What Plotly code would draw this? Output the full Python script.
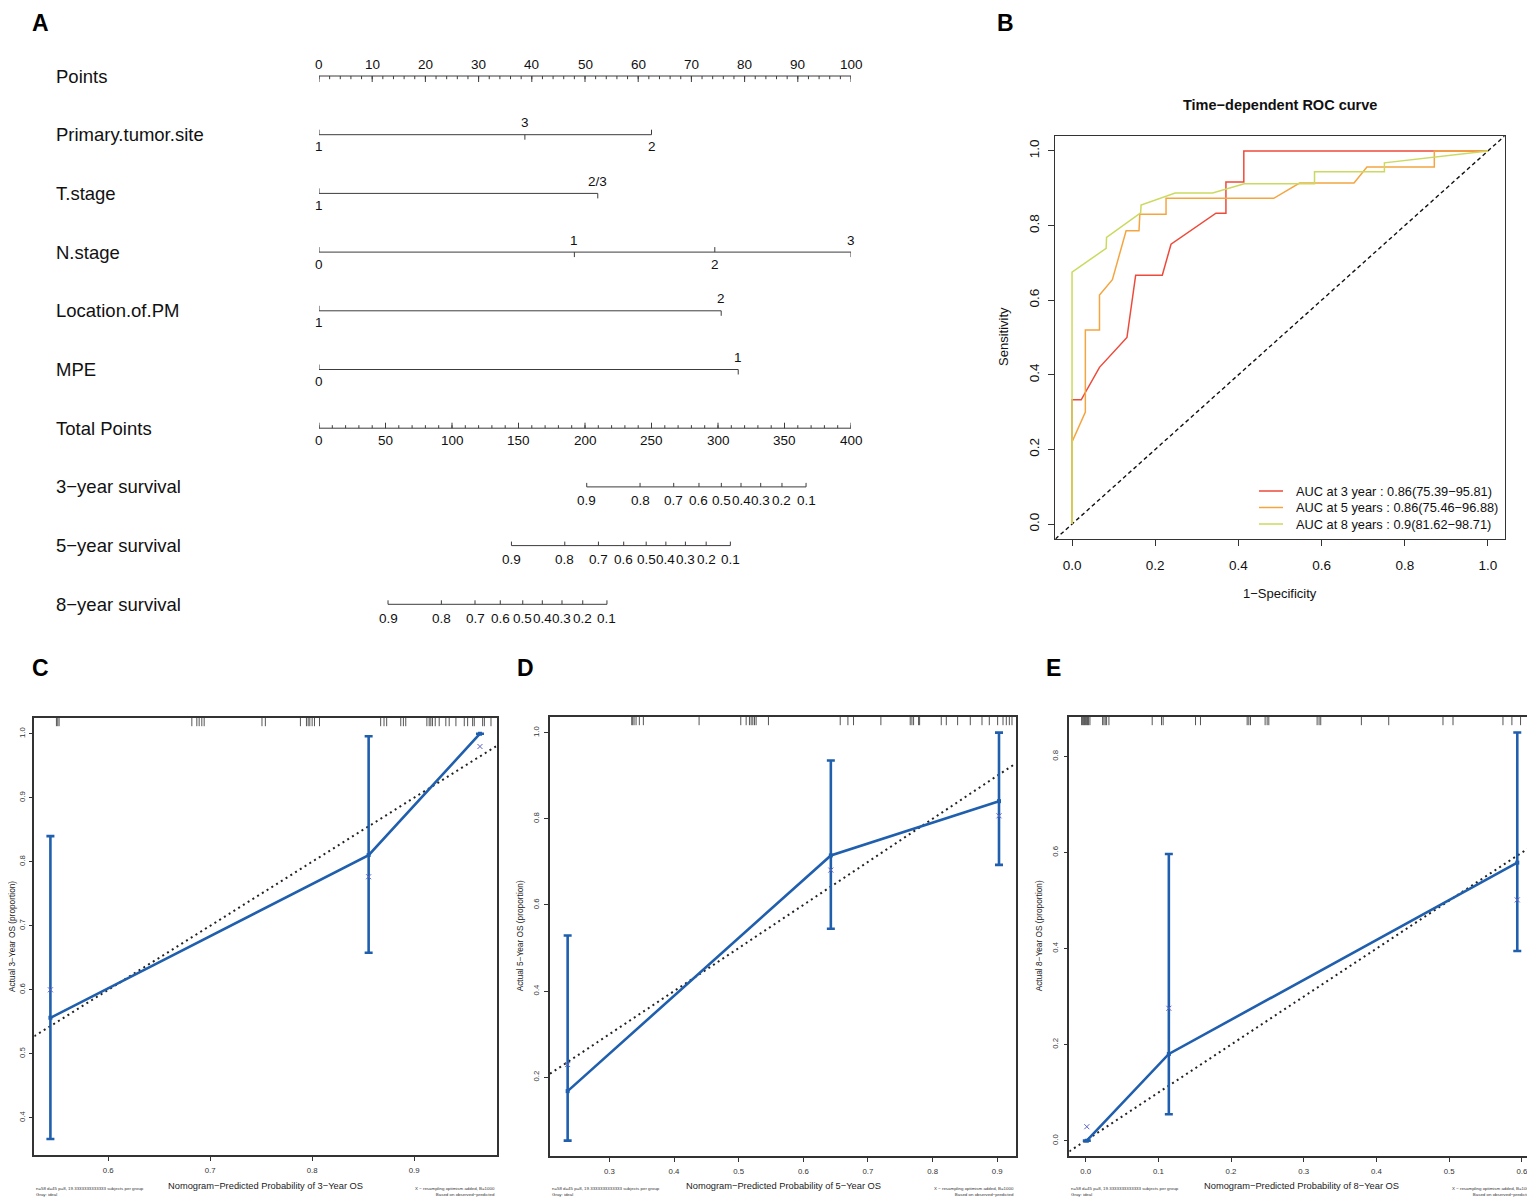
import plotly.graph_objects as go

PAGE_OFF = 8                      # browser default body margin
W, H = 1535 - PAGE_OFF, 1199 - PAGE_OFF
FONT = "Liberation Sans, Arial, Helvetica, sans-serif"

# ======================= DATA =======================
# ---- Panel A : nomogram ----
row_names = ["Points", "Primary.tumor.site", "T.stage", "N.stage", "Location.of.PM",
             "MPE", "Total Points", "3−year survival", "5−year survival", "8−year survival"]

points_major = list(range(0, 101, 10))
points_minor = list(range(0, 101, 2))

tumor_site_levels = ["1", "3", "2"]
tumor_site_points = [0, 38.7, 62.5]
t_stage_levels = ["1", "2/3"]
t_stage_points = [0, 52.4]
n_stage_levels = ["0", "1", "2", "3"]
n_stage_points = [0, 48.0, 74.4, 100]
location_levels = ["1", "2"]
location_points = [0, 75.6]
mpe_levels = ["0", "1"]
mpe_points = [0, 78.8]

total_major = list(range(0, 401, 50))
total_minor = list(range(0, 401, 10))

surv_probs = ["0.9", "0.8", "0.7", "0.6", "0.5", "0.4", "0.3", "0.2", "0.1"]
surv3_total = [201.3, 241.4, 266.7, 285.7, 302.5, 317.3, 332.1, 348.1, 366.2]
surv5_total = [144.7, 184.8, 210.1, 229.1, 246.0, 260.8, 275.5, 291.1, 309.3]
surv8_total = [51.9, 92.0, 117.3, 136.3, 153.2, 167.9, 182.7, 198.3, 216.5]

# ---- Panel B : time-dependent ROC ----
fpr3 = [0, 0, 0.022, 0.066, 0.132, 0.153, 0.217, 0.238, 0.346, 0.370, 0.370, 0.413, 0.413, 1.0]
tpr3 = [0, 0.333, 0.333, 0.420, 0.500, 0.667, 0.667, 0.750, 0.833, 0.833, 0.917, 0.917, 1.0, 1.0]
fpr5 = [0, 0, 0.032, 0.032, 0.066, 0.066, 0.097, 0.130, 0.161, 0.163, 0.226, 0.226, 0.485,
        0.547, 0.678, 0.709, 0.871, 0.871, 1.0]
tpr5 = [0, 0.220, 0.300, 0.520, 0.520, 0.614, 0.655, 0.786, 0.786, 0.830, 0.830, 0.873, 0.873,
        0.914, 0.914, 0.957, 0.957, 1.0, 1.0]
fpr8 = [0, 0, 0.082, 0.083, 0.165, 0.166, 0.248, 0.338, 0.414, 0.583, 0.583, 0.751, 0.751, 1.0]
tpr8 = [0, 0.675, 0.739, 0.768, 0.834, 0.855, 0.887, 0.887, 0.912, 0.912, 0.944, 0.944, 0.968, 1.0]
roc_labels = ["AUC at 3 year : 0.86(75.39−95.81)",
              "AUC at 5 years : 0.86(75.46−96.88)",
              "AUC at 8 years : 0.9(81.62−98.71)"]
roc_colors = ["#EE4A3A", "#F5A540", "#CBDA5E"]

# ---- Panels C, D, E : calibration ----
c_pred = [0.5433, 0.8554, 0.9646]
c_obs = [0.5563, 0.8104, 1.0]
c_lo = [0.367, 0.658, 1.0]
c_hi = [0.840, 0.996, 1.0]
c_corr = [0.600, 0.7766, 0.980]
c_rug = [0.5492, 0.5505, 0.5518, 0.682, 0.6869, 0.6892, 0.6918, 0.6941, 0.7508, 0.7541,
         0.7885, 0.7944, 0.7961, 0.7977, 0.800, 0.8023, 0.8072, 0.8672, 0.8705, 0.8731,
         0.8869, 0.8895, 0.8918, 0.9125, 0.9148, 0.9164, 0.918, 0.9207, 0.9246, 0.9311,
         0.9344, 0.941, 0.9492, 0.9525, 0.9574, 0.959, 0.9672, 0.9689, 0.9754]

d_pred = [0.2355, 0.6426, 0.9027]
d_obs = [0.168, 0.715, 0.841]
d_lo = [0.053, 0.5447, 0.693]
d_hi = [0.529, 0.9354, 1.0]
d_corr = [0.2296, 0.681, 0.807]
d_rug = [0.3346, 0.3361, 0.3382, 0.3413, 0.3464, 0.3526, 0.4388, 0.5033, 0.5116, 0.5167,
         0.5193, 0.5219, 0.5245, 0.527, 0.5461, 0.6571, 0.669, 0.6777, 0.72, 0.7654, 0.768,
         0.7706, 0.7783, 0.7799, 0.8134, 0.8212, 0.8387, 0.8583, 0.8764, 0.8877, 0.9006,
         0.9089, 0.914, 0.9187, 0.9228]

e_pred = [0.0017, 0.1145, 0.5937]
e_obs = [0.0, 0.1806, 0.579]
e_lo = [0.0, 0.0549, 0.395]
e_hi = [0.0, 0.597, 0.850]
e_corr = [0.029, 0.2757, 0.5014]
e_rug = [-0.0055, -0.0041, -0.0027, -0.0014, 0.0, 0.0014, 0.0027, 0.0041, 0.006, 0.0234,
         0.0252, 0.027, 0.0289, 0.0321, 0.0916, 0.1044, 0.1067, 0.1512, 0.158, 0.2222,
         0.2245, 0.2268, 0.2469, 0.2497, 0.252, 0.3184, 0.3211, 0.3234, 0.3793, 0.4169,
         0.4915, 0.5053, 0.574, 0.5863, 0.5982]

cal_footnote_left = "n=58 d=45 p=8, 19.3333333333333 subjects per group<br>Gray: ideal"
cal_footnote_right = "X − resampling optimism added, B=1000<br>Based on observed−predicted"

# ======================= HELPERS =======================
def px(x):
    return (x - PAGE_OFF) / W


def py(y):
    return 1 - (y - PAGE_OFF) / H


fig = go.Figure()
annotations = []
shapes = []


def ann(text, x, y, size, xref="paper", yref="paper", xanchor="center", yanchor="middle",
        bold=False, angle=0, yshift=0, color="#111", align="center"):
    annotations.append(dict(
        text=f"<b>{text}</b>" if bold else text, x=x, y=y, xref=xref, yref=yref,
        xanchor=xanchor, yanchor=yanchor, showarrow=False, textangle=angle, yshift=yshift,
        align=align, font=dict(family=FONT, size=size, color=color)))


# ======================= PANEL A =======================
NOM_X0, NOM_X1 = 319, 851         # pixels of 0 and 100 points
NOM_TOP, NOM_BOT = 40, 640
ROW0, ROW_STEP = 76, 58.7
yr_top = (NOM_TOP - ROW0) / ROW_STEP
yr_bot = (NOM_BOT - ROW0) / ROW_STEP
R = 1.0 / ROW_STEP                # rows per pixel

fig.update_layout(
    xaxis=dict(domain=[px(NOM_X0), px(NOM_X1)], range=[0, 100], visible=False, fixedrange=True),
    yaxis=dict(domain=[py(NOM_BOT), py(NOM_TOP)], range=[yr_bot, yr_top], visible=False,
               fixedrange=True),
)

segx, segy = [], []


def seg(x0, y0, x1, y1):
    segx.extend([x0, x1, None])
    segy.extend([y0, y1, None])


TICK_FS = 13.5
for i, name in enumerate(row_names):
    ann(name, px(54), i, 18.5, yref="y", xanchor="left")

# Points axis
seg(0, 0, 100, 0)
for v in points_minor:
    seg(v, 0, v, 3.2 * R)
for v in points_major:
    seg(v, 0, v, 6 * R)
    ann(str(v), v, 0, TICK_FS, xref="x", yref="y", yshift=12)

# factor rows
factor_rows = [(tumor_site_levels, tumor_site_points), (t_stage_levels, t_stage_points),
               (n_stage_levels, n_stage_points), (location_levels, location_points),
               (mpe_levels, mpe_points)]
for r, (levels, pts) in enumerate(factor_rows, start=1):
    seg(min(pts), r, max(pts), r)
    order = sorted(range(len(pts)), key=lambda k: pts[k])
    for j, k in enumerate(order):
        below = (j % 2 == 0)
        if below:
            seg(pts[k], r, pts[k], r - 5 * R)
            ann(levels[k], pts[k], r, TICK_FS, xref="x", yref="y", yshift=-12)
        else:
            seg(pts[k], r, pts[k], r + 5 * R)
            ann(levels[k], pts[k], r, TICK_FS, xref="x", yref="y", yshift=12)

# Total points (0-400 mapped onto the 0-100 points scale)
TP = 100.0 / 400.0
seg(0, 6, 400 * TP, 6)
for v in total_minor:
    seg(v * TP, 6, v * TP, 6 - 3 * R)
for v in total_major:
    seg(v * TP, 6, v * TP, 6 - 5.5 * R)
    ann(str(v), v * TP, 6, TICK_FS, xref="x", yref="y", yshift=-12)

# survival scales
for r, tot in zip([7, 8, 9], [surv3_total, surv5_total, surv8_total]):
    seg(min(tot) * TP, r, max(tot) * TP, r)
    for lab, v in zip(surv_probs, tot):
        seg(v * TP, r, v * TP, r - 4 * R)
        ann(lab, v * TP, r, TICK_FS, xref="x", yref="y", yshift=-14)

fig.add_trace(go.Scatter(x=segx, y=segy, mode="lines", xaxis="x", yaxis="y",
                         line=dict(color="#3c3c3c", width=1), hoverinfo="skip",
                         showlegend=False))

# ======================= PANEL B =======================
B_L, B_R, B_T, B_B = 1055.4, 1504.6, 136, 539
axis_common = dict(showline=True, mirror=True, linecolor="#333", showgrid=False,
                   zeroline=False, ticks="outside", tickcolor="#333", fixedrange=True,
                   tickformat=".1f")
fig.update_layout(
    xaxis2=dict(domain=[px(B_L), px(B_R)], range=[-0.04, 1.04], anchor="y2",
                tickvals=[0, 0.2, 0.4, 0.6, 0.8, 1.0], ticklen=6, linewidth=1.3,
                ticklabelstandoff=8, tickfont=dict(family=FONT, size=13.5, color="#111"),
                **axis_common),
    yaxis2=dict(domain=[py(B_B), py(B_T)], range=[-0.04, 1.04], anchor="x2",
                tickvals=[0, 0.2, 0.4, 0.6, 0.8, 1.0], ticklen=6, linewidth=1.3,
                tickangle=-90, ticklabelstandoff=4,
                tickfont=dict(family=FONT, size=13.5, color="#111"), **axis_common),
)
fig.add_trace(go.Scatter(x=[-0.04, 1.04], y=[-0.04, 1.04], mode="lines", xaxis="x2",
                         yaxis="y2", line=dict(color="#111", width=1.4, dash="4px,3px"),
                         hoverinfo="skip", showlegend=False))
for fx, ty, col in zip([fpr3, fpr5, fpr8], [tpr3, tpr5, tpr8], roc_colors):
    fig.add_trace(go.Scatter(x=fx, y=ty, mode="lines", xaxis="x2", yaxis="y2",
                             line=dict(color=col, width=1.5), hoverinfo="skip",
                             showlegend=False))
ann("Time−dependent ROC curve", px(1280), py(105), 14.5, bold=True)
ann("Sensitivity", px(1003), py(337), 13, angle=-90)
ann("1−Specificity", px(1280), py(593), 13)
for k, (lab, col) in enumerate(zip(roc_labels, roc_colors)):
    yy = 491 + 16.5 * k
    shapes.append(dict(type="line", xref="paper", yref="paper", x0=px(1259), x1=px(1283),
                       y0=py(yy), y1=py(yy), line=dict(color=col, width=1.5)))
    ann(lab, px(1294), py(yy), 12.8, xanchor="left")

# ======================= PANELS C, D, E =======================
BLUE = "#1F5FAE"
cal_panels = [
    dict(n=3, L=34.3, R=496.7, T=717.7, B=1155, xr=[0.5275, 0.981], yr=[0.342, 1.025],
         xt=[0.6, 0.7, 0.8, 0.9], yt=[0.4, 0.5, 0.6, 0.7, 0.8, 0.9, 1.0],
         pred=c_pred, obs=c_obs, lo=c_lo, hi=c_hi, corr=c_corr, rug=c_rug, yr_lab=3,
         ytx=12.6, ystand=0),
    dict(n=4, L=550, R=1016, T=716.7, B=1156, xr=[0.2082, 0.929], yr=[0.0174, 1.037],
         xt=[0.3, 0.4, 0.5, 0.6, 0.7, 0.8, 0.9], yt=[0.2, 0.4, 0.6, 0.8, 1.0],
         pred=d_pred, obs=d_obs, lo=d_lo, hi=d_hi, corr=d_corr, rug=d_rug, yr_lab=5,
         ytx=520, ystand=2),
    dict(n=5, L=1069.3, R=1533.5, T=716.7, B=1156, xr=[-0.0224, 0.616], yr=[-0.032, 0.883],
         xt=[0.0, 0.1, 0.2, 0.3, 0.4, 0.5, 0.6], yt=[0.0, 0.2, 0.4, 0.6, 0.8],
         pred=e_pred, obs=e_obs, lo=e_lo, hi=e_hi, corr=e_corr, rug=e_rug, yr_lab=8,
         ytx=1039, ystand=2),
]
for p in cal_panels:
    n = p["n"]
    xa, ya = f"x{n}", f"y{n}"
    cal_axis = dict(showline=True, mirror=True, linecolor="#333", linewidth=1.6,
                    showgrid=False, zeroline=False, ticks="outside", ticklen=4,
                    tickcolor="#333", tickformat=".1f", fixedrange=True,
                    tickfont=dict(family=FONT, size=7.8, color="#333"))
    fig.update_layout(**{
        f"xaxis{n}": dict(domain=[px(p["L"]), px(p["R"])], range=p["xr"], anchor=ya,
                          tickvals=p["xt"], ticklabelstandoff=3, **cal_axis),
        f"yaxis{n}": dict(domain=[py(p["B"]), py(p["T"])], range=p["yr"], anchor=xa,
                          tickvals=p["yt"], tickangle=-90, ticklabelstandoff=p["ystand"],
                          **cal_axis),
    })
    # ideal line
    fig.add_trace(go.Scatter(x=p["xr"], y=p["xr"], mode="lines", xaxis=xa, yaxis=ya,
                             line=dict(color="#222", width=2, dash="2px,3.6px"),
                             hoverinfo="skip", showlegend=False))
    # rug at top
    rug_len = (p["yr"][1] - p["yr"][0]) / (p["B"] - p["T"]) * 8.5
    rx, ry = [], []
    for v in p["rug"]:
        rx.extend([v, v, None])
        ry.extend([p["yr"][1], p["yr"][1] - rug_len, None])
    fig.add_trace(go.Scatter(x=rx, y=ry, mode="lines", xaxis=xa, yaxis=ya,
                             line=dict(color="#555", width=1), hoverinfo="skip",
                             showlegend=False))
    # observed with CI
    fig.add_trace(go.Scatter(
        x=p["pred"], y=p["obs"], mode="lines+markers", xaxis=xa, yaxis=ya,
        line=dict(color=BLUE, width=2.6),
        marker=dict(color=BLUE, size=4, symbol="square"),
        error_y=dict(type="data", symmetric=False,
                     array=[h - o for h, o in zip(p["hi"], p["obs"])],
                     arrayminus=[o - l for o, l in zip(p["obs"], p["lo"])],
                     color=BLUE, thickness=2.6, width=4),
        hoverinfo="skip", showlegend=False))
    # bias-corrected
    fig.add_trace(go.Scatter(x=p["pred"], y=p["corr"], mode="markers", xaxis=xa, yaxis=ya,
                             marker=dict(symbol="x-thin", size=5, color="#5A62C4",
                                         line=dict(width=1, color="#5A62C4")),
                             hoverinfo="skip", showlegend=False))
    yl = p["yr_lab"]
    ann(f"Nomogram−Predicted Probability of {yl}−Year OS", px((p["L"] + p["R"]) / 2),
        py(1185.5), 9.3, color="#222")
    ann(f"Actual {yl}−Year OS (proportion)", px(p["ytx"]), py((p["T"] + p["B"]) / 2), 8.3,
        angle=-90, color="#222")
    ann(cal_footnote_left, px(p["L"]), py(1191), 4.4, xanchor="left", align="left",
        color="#333")
    ann(cal_footnote_right, px(p["R"]), py(1191), 4.4, xanchor="right", align="right",
        color="#333")

# panel letters
for letter, (lx, ly) in zip("ABCDE", [(40, 17), (1005, 17), (40, 668), (525, 668), (1053, 668)]):
    if ly < 30:
        ann(letter, px(lx), py(PAGE_OFF + 0.5), 23, bold=True, color="#000", yanchor="top")
    else:
        ann(letter, px(lx), py(ly), 23, bold=True, color="#000")

fig.update_layout(width=W, height=H, margin=dict(l=0, r=0, t=0, b=0),
                  paper_bgcolor="white", plot_bgcolor="white",
                  annotations=annotations, shapes=shapes, showlegend=False)
fig.write_html("out.html")
